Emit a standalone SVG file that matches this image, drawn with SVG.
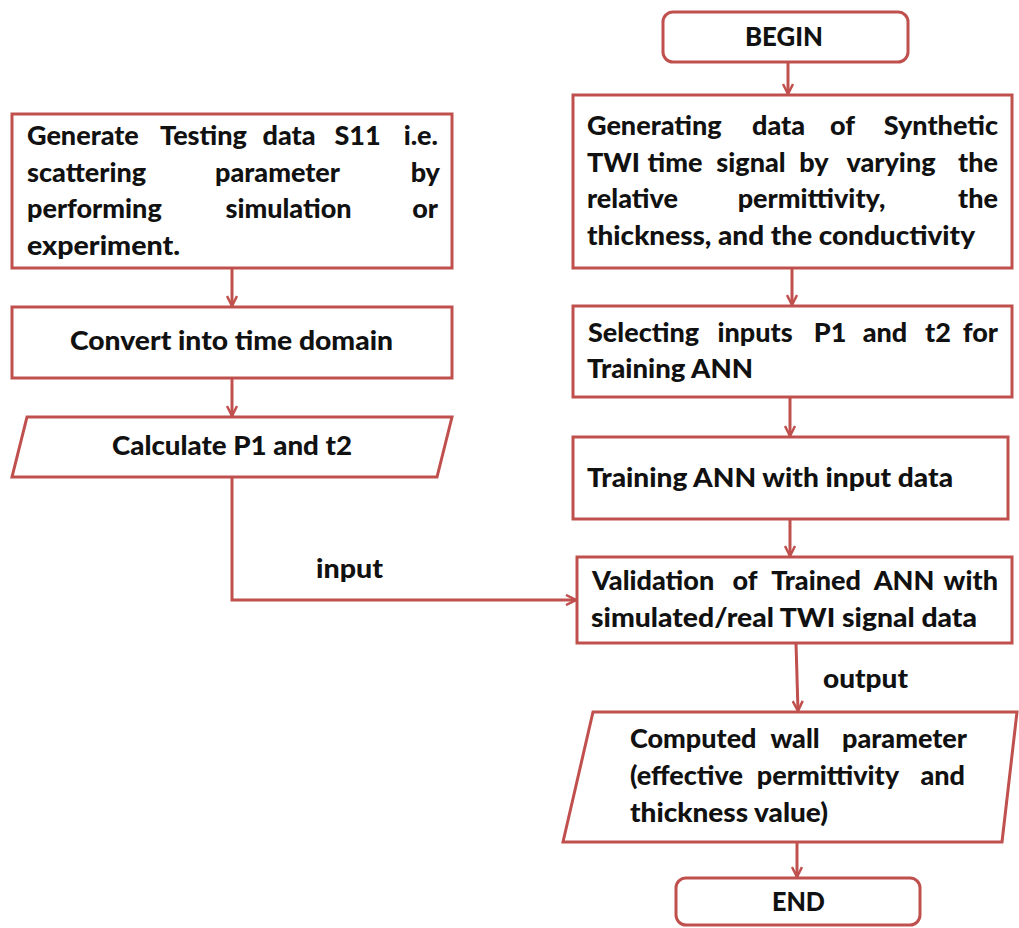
<svg xmlns="http://www.w3.org/2000/svg" width="1019" height="928" viewBox="0 0 1019 928">
<style>
.n{fill:#fff;stroke:#c0504d;stroke-width:3}
.t{font-family:Lato,"Open Sans","Liberation Sans",sans-serif;font-weight:900;font-size:27px;fill:#111}
.m{text-anchor:middle}
.e{text-anchor:end}
.c{fill:none;stroke:#c0504d;stroke-width:3}
</style>
<defs>
<marker id="a" viewBox="0 0 12 12" refX="11" refY="6" markerWidth="12" markerHeight="12" markerUnits="userSpaceOnUse" orient="auto">
<polyline points="1,1 11,6 1,11" fill="none" stroke="#c0504d" stroke-width="2.5"/>
</marker>
</defs>
<rect width="1019" height="928" fill="#fff"/>
<g id="connectors">
<line class="c" x1="232" y1="268" x2="232" y2="306" marker-end="url(#a)"/>
<line class="c" x1="232" y1="378" x2="232" y2="416" marker-end="url(#a)"/>
<polyline class="c" points="232,477 232,600 576,600" marker-end="url(#a)"/>
<line class="c" x1="788" y1="62" x2="788" y2="94" marker-end="url(#a)"/>
<line class="c" x1="792" y1="268" x2="792" y2="305" marker-end="url(#a)"/>
<line class="c" x1="790" y1="397" x2="790" y2="436" marker-end="url(#a)"/>
<line class="c" x1="790" y1="519" x2="790" y2="556" marker-end="url(#a)"/>
<line class="c" x1="796" y1="643" x2="798" y2="711" marker-end="url(#a)"/>
<line class="c" x1="797" y1="842" x2="797" y2="877" marker-end="url(#a)"/>
<text class="t" x="316" y="578" textLength="67" lengthAdjust="spacingAndGlyphs">input</text>
<text class="t" x="823" y="688" textLength="85" lengthAdjust="spacingAndGlyphs">output</text>
</g>
<g id="generate">
<rect class="n" x="12" y="114" width="440" height="154"/>
<text class="t" y="145"><tspan x="27">Generate</tspan><tspan class="m" x="203.5">Testing</tspan><tspan class="m" x="289">data</tspan><tspan class="m" x="357.5">S11</tspan><tspan class="e" x="438">i.e.</tspan></text>
<text class="t" y="182"><tspan x="27">scattering</tspan><tspan class="m" x="277.5">parameter</tspan><tspan class="e" x="440">by</tspan></text>
<text class="t" y="218"><tspan x="27">performing</tspan><tspan class="m" x="288.5">simulation</tspan><tspan class="e" x="438">or</tspan></text>
<text class="t" x="27" y="255" textLength="153" lengthAdjust="spacingAndGlyphs">experiment.</text>
</g>
<g id="convert">
<rect class="n" x="12" y="307" width="440" height="71"/>
<text class="t" x="70" y="350" textLength="323" lengthAdjust="spacingAndGlyphs">Convert into time domain</text>
</g>
<g id="calculate">
<polygon class="n" points="27,417 452,417 437,477 12,477"/>
<text class="t" x="112" y="455" textLength="240" lengthAdjust="spacingAndGlyphs">Calculate P1 and t2</text>
</g>
<g id="begin">
<rect class="n" x="663" y="12" width="245" height="50" rx="10"/>
<text class="t" x="745" y="46" textLength="78" lengthAdjust="spacingAndGlyphs">BEGIN</text>
</g>
<g id="generating">
<rect class="n" x="573" y="95" width="439" height="173"/>
<text class="t" y="135"><tspan x="587">Generating</tspan><tspan class="m" x="778.5">data</tspan><tspan class="m" x="842.5">of</tspan><tspan class="e" x="998">Synthetic</tspan></text>
<text class="t" y="172"><tspan x="587">TWI</tspan><tspan class="m" x="675">time</tspan><tspan class="m" x="751">signal</tspan><tspan class="m" x="814">by</tspan><tspan class="m" x="891">varying</tspan><tspan class="e" x="998">the</tspan></text>
<text class="t" y="208"><tspan x="587">relative</tspan><tspan class="m" x="811.5">permittivity,</tspan><tspan class="e" x="998">the</tspan></text>
<text class="t" x="587" y="245" textLength="388" lengthAdjust="spacingAndGlyphs">thickness, and the conductivity</text>
</g>
<g id="selecting">
<rect class="n" x="573" y="306" width="439" height="91"/>
<text class="t" y="342"><tspan x="588">Selecting</tspan><tspan class="m" x="755">inputs</tspan><tspan class="m" x="830">P1</tspan><tspan class="m" x="885">and</tspan><tspan class="m" x="938">t2</tspan><tspan class="e" x="998">for</tspan></text>
<text class="t" x="587" y="378" textLength="166" lengthAdjust="spacingAndGlyphs">Training ANN</text>
</g>
<g id="training">
<rect class="n" x="573" y="437" width="435" height="82"/>
<text class="t" x="587" y="487" textLength="366" lengthAdjust="spacingAndGlyphs">Training ANN with input data</text>
</g>
<g id="validation">
<rect class="n" x="577" y="557" width="435" height="86"/>
<text class="t" y="590"><tspan x="592">Validation</tspan><tspan class="m" x="745">of</tspan><tspan class="m" x="816">Trained</tspan><tspan class="m" x="904">ANN</tspan><tspan class="e" x="998">with</tspan></text>
<text class="t" x="591" y="627" textLength="386" lengthAdjust="spacingAndGlyphs">simulated/real TWI signal data</text>
</g>
<g id="computed">
<polygon class="n" points="593,712 1017,712 1002,842 563,842"/>
<text class="t" y="748"><tspan x="630">Computed</tspan><tspan class="m" x="795">wall</tspan><tspan class="e" x="967">parameter</tspan></text>
<text class="t" y="785"><tspan x="630">(effective</tspan><tspan class="m" x="828">permittivity</tspan><tspan class="e" x="965">and</tspan></text>
<text class="t" x="630" y="822" textLength="198" lengthAdjust="spacingAndGlyphs">thickness value)</text>
</g>
<g id="end">
<rect class="n" x="676" y="878" width="244" height="47" rx="10"/>
<text class="t" x="772" y="911" textLength="53" lengthAdjust="spacingAndGlyphs">END</text>
</g>
</svg>
